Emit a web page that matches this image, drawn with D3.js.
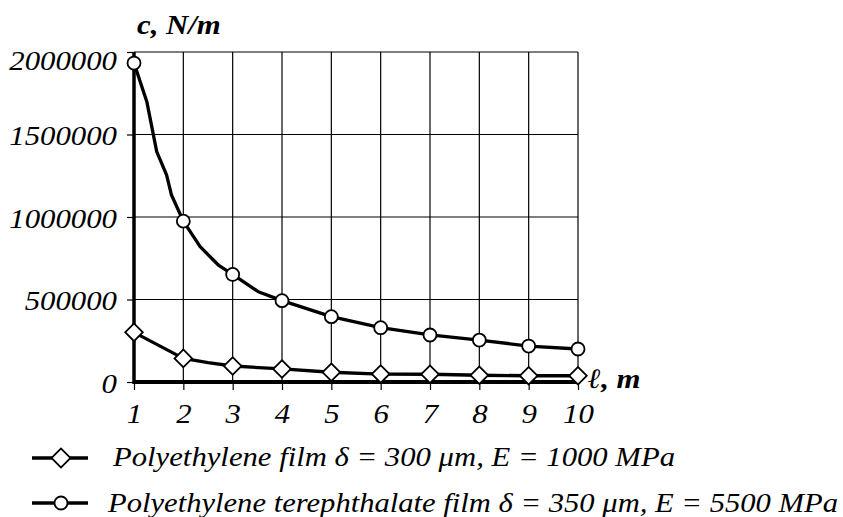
<!DOCTYPE html>
<html>
<head>
<meta charset="utf-8">
<script src="https://cdn.jsdelivr.net/npm/d3@7"></script>
<style>
  body { margin: 0; background: #fff; }
  text { font-family: "Liberation Serif", "Times New Roman", serif; fill: #000; }
</style>
</head>
<body>
<div></div>
<script>
const width = 843;
const height = 517;

// tick values
const xTicks = [1, 2, 3, 4, 5, 6, 7, 8, 9, 10];
const yTicks = [0, 500000, 1000000, 1500000, 2000000];

// marker points (l, m) -> c, N/m
const peX = [1, 2, 3, 4, 5, 6, 7, 8, 9, 10];
const peC = [301000, 143000, 97000, 79000, 59000, 48000, 47000, 41000, 38000, 38000];
const petX = [1, 2, 3, 4, 5, 6, 7, 8, 9, 10];
const petC = [1933000, 975000, 652000, 493000, 396000, 329000, 285000, 254000, 218000, 200000];

// the drawn curves pass through a few extra points between the markers
const peLineX = [1, 2, 2.5, 3, 4, 5, 6, 7, 8, 9, 10];
const peLineC = [301000, 143000, 117000, 97000, 79000, 59000, 48000, 47000, 41000, 38000, 38000];
const petLineX = [1, 1.26, 1.46, 1.66, 1.76, 2, 2.34, 2.71, 3, 3.52, 4, 5, 6, 7, 8, 9, 10];
const petLineC = [1933000, 1699000, 1396000, 1255000, 1133000, 975000, 820000, 709000, 652000, 547000, 493000, 396000, 329000, 285000, 254000, 218000, 200000];

const legendLabels = [
    'Polyethylene film \u03b4 = 300 \u03bcm, E = 1000 MPa',
    'Polyethylene terephthalate film \u03b4 = 350 \u03bcm, E = 5500 MPa'
];

const sx = 1.1; // the original lettering is a bit wider than Times

const svg = d3.select('div').append('svg').attr('width', width).attr('height', height);

const x = d3.scaleLinear().domain([1, 10]).range([134, 578]);
const y = d3.scaleLinear().domain([0, 2000000]).range([382, 52]);

// grid
const grid = svg.append('g').attr('stroke', '#000').attr('stroke-width', 1.2);
grid.selectAll('line.v').data(xTicks.slice(1)).enter().append('line')
    .attr('x1', d => x(d)).attr('x2', d => x(d))
    .attr('y1', y(2000000)).attr('y2', y(0));
grid.selectAll('line.h').data(yTicks.slice(1)).enter().append('line')
    .attr('x1', x(1)).attr('x2', x(10))
    .attr('y1', d => y(d)).attr('y2', d => y(d));

// y axis ticks + labels
const yAxis = svg.append('g').attr('transform', 'translate(' + x(1) + ',0)')
    .call(d3.axisLeft(y).tickValues(yTicks).tickSize(7).tickSizeOuter(0).tickFormat(d3.format('d')));
yAxis.select('.domain').remove();
yAxis.selectAll('line').attr('stroke', '#000').attr('stroke-width', 1.2);
yAxis.selectAll('text')
    .attr('x', 0).attr('dy', null)
    .attr('transform', d => 'translate(-17,' + (d === 2000000 ? 17 : 10) + ') scale(' + sx + ',1)')
    .style('font-size', '28px').style('font-style', 'italic')
    .attr('text-anchor', 'end');

// x axis ticks + labels
const xAxis = svg.append('g').attr('transform', 'translate(0,' + y(0) + ')')
    .call(d3.axisBottom(x).tickValues(xTicks).tickSize(8).tickSizeOuter(0));
xAxis.select('.domain').remove();
xAxis.selectAll('line').attr('stroke', '#000').attr('stroke-width', 1.2);
xAxis.selectAll('text')
    .attr('y', 0).attr('dy', null)
    .attr('transform', 'translate(0,41) scale(' + sx + ',1)')
    .style('font-size', '28px').style('font-style', 'italic');

// thick axis lines
svg.append('line').attr('x1', x(1)).attr('x2', x(1)).attr('y1', y(2000000)).attr('y2', y(0) + 2)
    .attr('stroke', '#000').attr('stroke-width', 3.5);
svg.append('line').attr('x1', x(1)).attr('x2', x(10)).attr('y1', y(0)).attr('y2', y(0))
    .attr('stroke', '#000').attr('stroke-width', 4);

// axis titles
svg.append('text').attr('transform', 'translate(137,34) scale(' + sx + ',1)')
    .style('font-size', '28px').style('font-weight', 'bold').style('font-style', 'italic')
    .text('c, N/m');
svg.append('text').attr('transform', 'translate(588,388) scale(' + sx + ',1)')
    .style('font-size', '28px').style('font-weight', 'bold').style('font-style', 'italic')
    .text('\u2113, m');

// curves
const line = d3.line().x(d => x(d[0])).y(d => y(d[1]));
const curves = svg.append('g').attr('fill', 'none').attr('stroke', '#000').attr('stroke-width', 3.3)
    .attr('stroke-linejoin', 'round');
curves.append('path').attr('d', line(d3.zip(peLineX, peLineC)));
curves.append('path').attr('d', line(d3.zip(petLineX, petLineC)));

const diamond = d3.symbol().type(d3.symbolSquare).size(155);

svg.append('g').selectAll('path').data(d3.zip(peX, peC)).enter().append('path')
    .attr('d', diamond)
    .attr('transform', d => 'translate(' + x(d[0]) + ',' + y(d[1]) + ') rotate(45)')
    .attr('fill', '#fff').attr('stroke', '#000').attr('stroke-width', 1.8);

svg.append('g').selectAll('circle').data(d3.zip(petX, petC)).enter().append('circle')
    .attr('cx', d => x(d[0])).attr('cy', d => y(d[1])).attr('r', 6.5)
    .attr('fill', '#fff').attr('stroke', '#000').attr('stroke-width', 1.8);

// legend
const legendRows = [
    {label: legendLabels[0], y: 458, tx: 113, base: 466, len: 562, mark: 'diamond'},
    {label: legendLabels[1], y: 503, tx: 108, base: 512, len: 730, mark: 'circle'}
];
const lg = svg.append('g');
legendRows.forEach(r => {
    lg.append('line').attr('x1', 32).attr('x2', 88).attr('y1', r.y).attr('y2', r.y)
        .attr('stroke', '#000').attr('stroke-width', 3.3);
    if (r.mark === 'diamond') {
        lg.append('path').attr('d', d3.symbol().type(d3.symbolSquare).size(180))
            .attr('transform', 'translate(61,' + r.y + ') rotate(45)')
            .attr('fill', '#fff').attr('stroke', '#000').attr('stroke-width', 1.8);
    } else {
        lg.append('circle').attr('cx', 61).attr('cy', r.y).attr('r', 6.5)
            .attr('fill', '#fff').attr('stroke', '#000').attr('stroke-width', 1.8);
    }
    lg.append('text').attr('x', r.tx).attr('y', r.base)
        .attr('textLength', r.len).attr('lengthAdjust', 'spacingAndGlyphs')
        .style('font-size', '28px').style('font-style', 'italic')
        .text(r.label);
});
</script>
</body>
</html>
